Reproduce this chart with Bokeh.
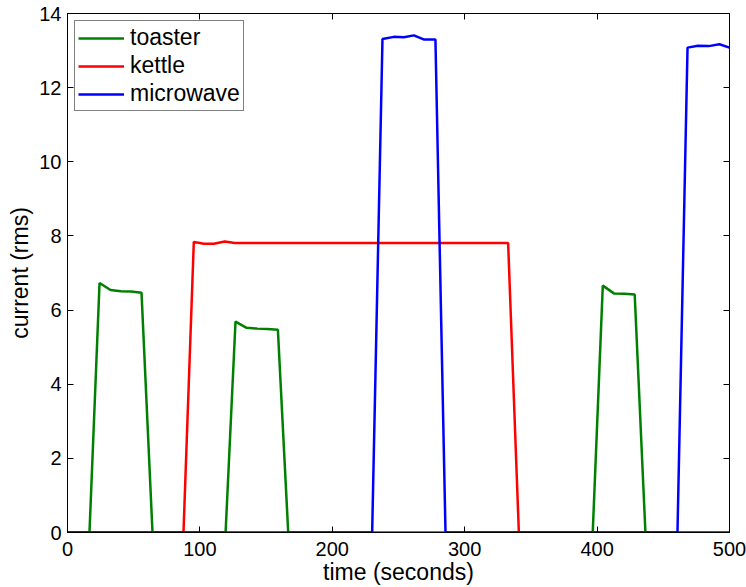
from bokeh.plotting import figure
from bokeh.models import LinearAxis, Range1d, Legend, LegendItem, FixedTicker
from bokeh.embed import file_html
from bokeh.resources import INLINE

# --- data (time in seconds, current rms) ---
toaster_t = [0, 16.6, 24.2, 32.5, 40.3, 48.1, 55.9, 64.2,
             119.4, 126.9, 135.3, 143.2, 151.0, 158.9, 166.7,
             396.7, 404.3, 412.7, 420.5, 428.4, 436.5, 500]
toaster_i = [0, 0, 6.73, 6.54, 6.51, 6.50, 6.47, 0,
             0, 5.69, 5.52, 5.50, 5.49, 5.47, 0,
             0, 6.66, 6.45, 6.44, 6.42, 0, 0]

kettle_t = [0, 87.6, 95.4, 103.0, 110.5, 118.8, 126.3, 332.8, 340.9, 500]
kettle_i = [0, 0, 7.84, 7.79, 7.79, 7.85, 7.81, 7.81, 0, 0]

microwave_t = [0, 230.1, 237.9, 246.5, 254.0, 261.6, 269.0, 277.9, 285.5,
               460.7, 468.3, 476.1, 484.3, 492.4, 500]
microwave_i = [0, 0, 13.31, 13.37, 13.36, 13.41, 13.30, 13.30, 0,
               0, 13.08, 13.13, 13.12, 13.17, 13.08]

x_ticks = [0, 100, 200, 300, 400, 500]
y_ticks = [0, 2, 4, 6, 8, 10, 12, 14]

FONT = "Liberation Sans"

p = figure(width=746, height=587, output_backend="svg", toolbar_location=None,
           x_range=Range1d(0, 500), y_range=Range1d(0, 14),
           min_border_left=67, min_border_right=17, min_border_top=13,
           min_border_bottom=54, x_axis_label="time (seconds)",
           y_axis_label="current (rms)")
p.grid.visible = False
p.outline_line_color = "black"
p.outline_line_width = 1
p.background_fill_color = "white"
p.border_fill_color = "white"

r1 = p.line(toaster_t, toaster_i, line_color="#008000", line_width=2.5)
r2 = p.line(kettle_t, kettle_i, line_color="#ff0000", line_width=2.5)
r3 = p.line(microwave_t, microwave_i, line_color="#0000ff", line_width=2.5)

for ax, ticks in ((p.xaxis[0], x_ticks), (p.yaxis[0], y_ticks)):
    ax.ticker = FixedTicker(ticks=ticks)
    ax.major_tick_in = 6
    ax.major_tick_out = 0
    ax.minor_tick_line_color = None
    ax.axis_line_color = "black"
    ax.major_tick_line_color = "black"
    ax.major_label_text_font = FONT
    ax.major_label_text_font_size = "20px"
    ax.major_label_text_color = "black"
    ax.axis_label_text_font = FONT
    ax.axis_label_text_font_size = "23px"
    ax.axis_label_text_font_style = "normal"
    ax.axis_label_text_color = "black"
p.xaxis[0].major_label_standoff = 9
p.xaxis[0].axis_label_standoff = 0
p.xaxis[0].axis_label_text_line_height = 0.7
p.yaxis[0].major_label_standoff = 6
p.yaxis[0].axis_label_standoff = 3

top = LinearAxis(ticker=FixedTicker(ticks=x_ticks), major_tick_in=6, major_tick_out=0,
                 minor_tick_line_color=None, major_label_text_color=None,
                 major_label_text_font_size="10px",
                 major_label_standoff=0, axis_line_color="black")
right = LinearAxis(ticker=FixedTicker(ticks=y_ticks), major_tick_in=6, major_tick_out=0,
                   minor_tick_line_color=None, major_label_text_color=None,
                   major_label_text_font_size="10px",
                   major_label_standoff=0, axis_line_color="black")
p.add_layout(top, "above")
p.add_layout(right, "right")

legend = Legend(items=[LegendItem(label="toaster", renderers=[r1]),
                       LegendItem(label="kettle", renderers=[r2]),
                       LegendItem(label="microwave", renderers=[r3])],
                location="top_left", margin=7, padding=3, spacing=1,
                glyph_width=46, glyph_height=22, label_standoff=6,
                label_text_font=FONT, label_text_font_size="23px",
                label_text_color="black",
                border_line_color="black", border_line_width=1.2,
                background_fill_alpha=1)
p.add_layout(legend)

open("out.html", "w").write(file_html(p, INLINE))
